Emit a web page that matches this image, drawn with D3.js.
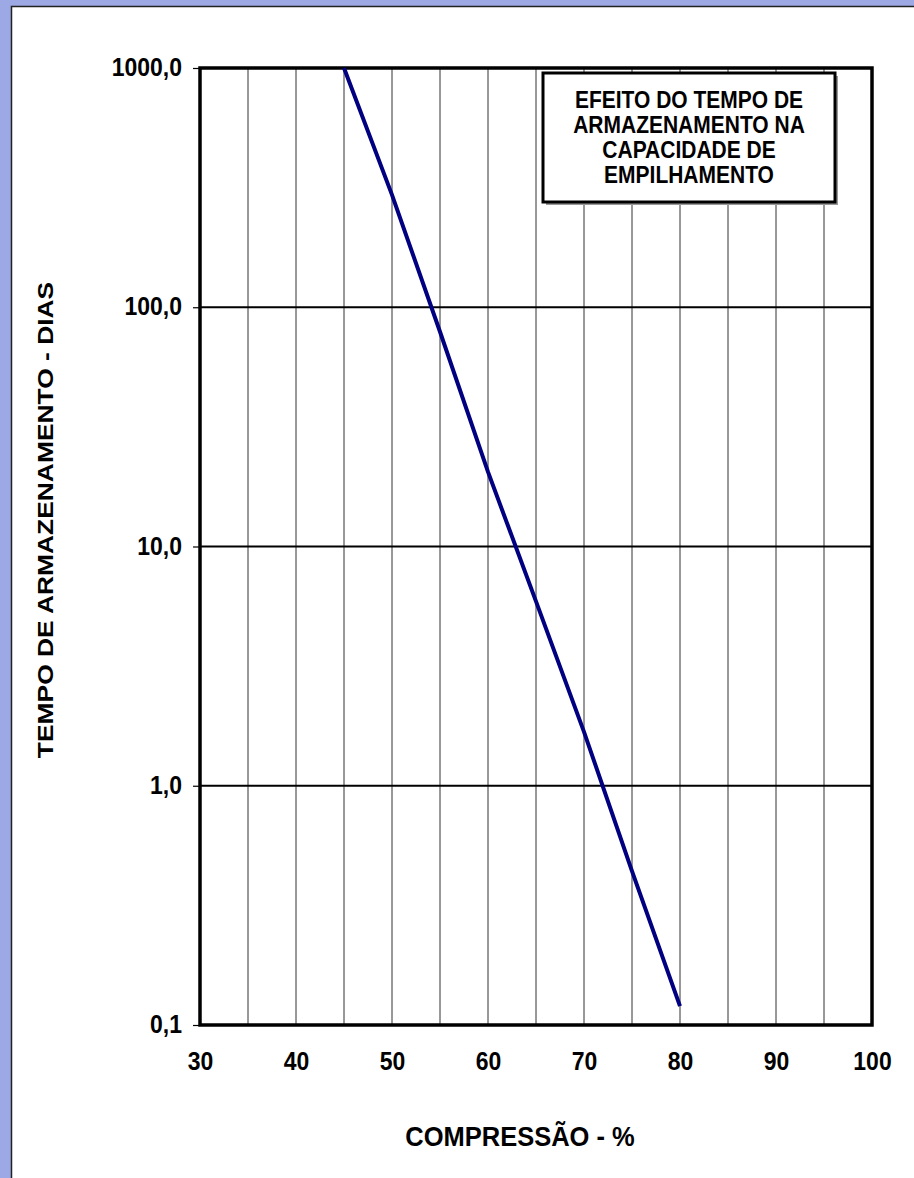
<!DOCTYPE html>
<html>
<head>
<meta charset="utf-8">
<script src="https://cdn.jsdelivr.net/npm/d3@7"></script>
<style>
    body { margin: 0; background: #9ca9e5; }
    text { font-family: "Liberation Sans", Arial, sans-serif; font-weight: bold; fill: #000; }
</style>
</head>
<body>
<svg id="chart" width="914" height="1178"></svg>
<script>
// compressao (%) vs tempo de armazenamento (dias)
const compressao = [45, 50, 55, 60, 65, 70, 75, 80];
const tempoDias = [1000, 295, 79, 20.5, 5.9, 1.68, 0.44, 0.12];
const xTicks = [30, 40, 50, 60, 70, 80, 90, 100];
const xGrid = [35, 40, 45, 50, 55, 60, 65, 70, 75, 80, 85, 90, 95];
const yTicks = [0.1, 1, 10, 100, 1000];
const titleLines = ["EFEITO DO TEMPO DE", "ARMAZENAMENTO NA", "CAPACIDADE DE", "EMPILHAMENTO"];

const margin = { l: 200, r: 42, t: 68, b: 153 };
const W = 914, H = 1178;
const sy = 1.12; // text looks a bit stretched vertically

const svg = d3.select('#chart');

// white panel
svg.append('rect')
    .attr('x', 11.5).attr('y', 6.5)
    .attr('width', W + 10).attr('height', H + 10)
    .attr('fill', '#fff')
    .attr('stroke', '#222')
    .attr('stroke-width', 1.5);

const x = d3.scaleLinear().domain([30, 100]).range([margin.l, W - margin.r]);
const y = d3.scaleLog().domain([0.1, 1000]).range([H - margin.b, margin.t]);

// grid
svg.append('g')
    .selectAll('line')
    .data(xGrid)
    .join('line')
    .attr('x1', d => x(d)).attr('x2', d => x(d))
    .attr('y1', y(1000)).attr('y2', y(0.1))
    .attr('stroke', '#333')
    .attr('stroke-width', 1);

svg.append('g')
    .selectAll('line')
    .data(yTicks)
    .join('line')
    .attr('x1', x(30)).attr('x2', x(100))
    .attr('y1', d => y(d)).attr('y2', d => y(d))
    .attr('stroke', '#000')
    .attr('stroke-width', 1.8);

// y axis ticks + labels
const fmt = d => d3.format('.1f')(d).replace('.', ',');
const axisY = d3.axisLeft(y)
    .tickValues(yTicks)
    .tickSize(7)
    .tickPadding(11)
    .tickFormat(fmt);

svg.append('g')
    .attr('transform', `translate(${x(30)},0)`)
    .call(axisY)
    .call(g => g.select('.domain').remove())
    .call(g => g.selectAll('line').attr('stroke', '#000').attr('stroke-width', 1.2))
    .call(g => g.selectAll('text')
        .attr('font-size', 23)
        .attr('dy', null)
        .attr('transform', d => `translate(0,7.5) scale(1,${sy})`)
        .attr('y', 0));

// x labels
const axisX = d3.axisBottom(x)
    .tickValues(xTicks)
    .tickSize(0)
    .tickPadding(0)
    .tickFormat(d3.format('d'));

svg.append('g')
    .attr('transform', `translate(0,${y(0.1)})`)
    .call(axisX)
    .call(g => g.select('.domain').remove())
    .call(g => g.selectAll('text')
        .attr('font-size', 23)
        .attr('dy', null)
        .attr('y', 0)
        .attr('transform', `translate(0,45) scale(1,${sy})`));

// frame
svg.append('rect')
    .attr('x', x(30)).attr('y', y(1000))
    .attr('width', x(100) - x(30)).attr('height', y(0.1) - y(1000))
    .attr('fill', 'none')
    .attr('stroke', '#000')
    .attr('stroke-width', 3.5);

// series
const line = d3.line()
    .x((d, i) => x(compressao[i]))
    .y(d => y(d));

svg.append('path')
    .datum(tempoDias)
    .attr('d', line)
    .attr('fill', 'none')
    .attr('stroke', '#000080')
    .attr('stroke-width', 4);

// title box
const box = { x: 543, y: 73, w: 292, h: 129 };
svg.append('rect')
    .attr('x', box.x + 3).attr('y', box.y + 3)
    .attr('width', box.w).attr('height', box.h)
    .attr('fill', '#999');
svg.append('rect')
    .attr('x', box.x).attr('y', box.y)
    .attr('width', box.w).attr('height', box.h)
    .attr('fill', '#fff')
    .attr('stroke', '#000')
    .attr('stroke-width', 3);

svg.append('g')
    .selectAll('text')
    .data(titleLines)
    .join('text')
    .attr('text-anchor', 'middle')
    .attr('font-size', 21)
    .attr('transform', (d, i) => `translate(${box.x + box.w / 2},${108 + i * 25}) scale(1,1.11)`)
    .text(d => d);

// axis titles
svg.append('text')
    .attr('text-anchor', 'middle')
    .attr('font-size', 25.5)
    .attr('transform', `translate(520,1146) scale(1,1.05)`)
    .text('COMPRESSÃO - %');

svg.append('text')
    .attr('text-anchor', 'middle')
    .attr('font-size', 22)
    .attr('transform', `translate(53,520) rotate(-90) scale(1.2,1)`)
    .text('TEMPO DE ARMAZENAMENTO - DIAS');
</script>
</body>
</html>
